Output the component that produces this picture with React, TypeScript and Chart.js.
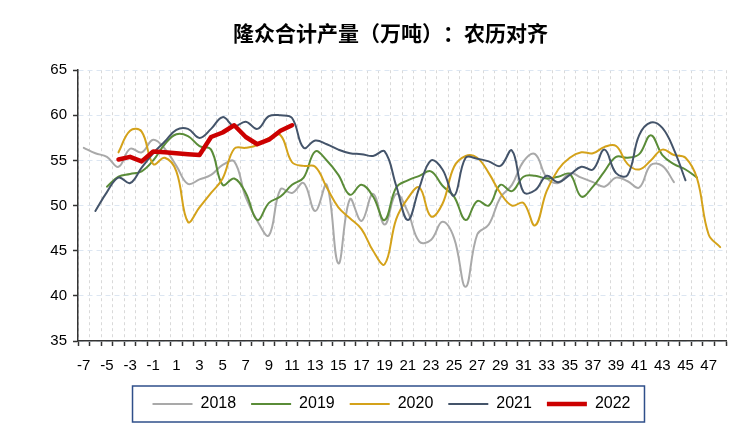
import React, { useEffect, useRef } from "react";
import { Chart, registerables } from "chart.js";

Chart.register(...registerables);

const TITLE = "隆众合计产量（万吨）：农历对齐";

const categories = [
  "-7", "-6", "-5", "-4", "-3", "-2", "-1", "0", "1", "2", "3", "4", "5", "6", "7", "8",
  "9", "10", "11", "12", "13", "14", "15", "16", "17", "18", "19", "20", "21", "22", "23", "24",
  "25", "26", "27", "28", "29", "30", "31", "32", "33", "34", "35", "36", "37", "38", "39", "40",
  "41", "42", "43", "44", "45", "46", "47", "48",
];

const yTicks = [35, 40, 45, 50, 55, 60, 65];

// 2018: -7 .. 44
const s2018 = [
  56.4, 55.8, 55.4, 54.3, 56.3, 55.9, 57.3, 56.3, 54.4, 52.4, 52.9, 53.4, 54.5, 54.9, 50.9, 48.3,
  46.7, 51.8, 51.4, 52.5, 49.4, 52.3, 43.6, 50.7, 48.3, 51.3, 47.9, 51.3, 49.3, 46.0, 46.2, 48.2,
  46.4, 41.0, 46.8, 47.9, 50.9, 52.3, 54.9, 55.7, 53.1, 52.5, 53.6, 53.1, 52.6, 52.1, 53.1, 52.7,
  52.0, 54.5, 54.4, 52.6, null, null, null, null,
];

// 2019: -5 .. 46
const s2019 = [
  null, null, 52.1, 53.2, 53.5, 53.8, 55.0, 56.8, 57.9, 57.7, 56.6, 56.2, 52.3, 53.0, 51.4, 48.4,
  50.3, 51.0, 52.3, 53.1, 56.0, 55.0, 53.4, 51.2, 52.3, 51.0, 48.4, 52.0, 52.8, 53.3, 53.8, 52.2,
  51.0, 48.4, 50.5, 50.0, 52.3, 51.6, 53.2, 53.3, 53.0, 53.2, 53.5, 51.0, 52.1, 53.8, 55.4, 55.3,
  55.7, 57.8, 55.6, 54.6, 54.0, 53.1, null, null,
];

// 2020: -4 .. 48
const s2020 = [
  null, null, null, 55.9, 58.3, 58.2, 54.6, 55.3, 53.8, 48.2, 49.8, 51.4, 53.0, 56.3, 56.4, 56.7,
  57.5, 57.8, 54.8, 54.4, 54.3, 52.0, 49.8, 48.6, 47.4, 45.0, 43.5, 48.5, 50.8, 52.0, 48.8, 50.2,
  54.3, 55.5, 55.3, 53.6, 51.4, 50.0, 50.3, 47.8, 51.6, 54.0, 55.3, 55.9, 55.8, 56.5, 56.6, 54.6,
  54.0, 55.0, 56.2, 55.6, 55.3, 53.0, 46.8, 45.4,
];

// 2021: -6 .. 45
const s2021 = [
  null, 49.4, 51.5, 53.1, 52.5, 54.2, 55.8, 57.1, 58.4, 58.5, 57.5, 58.5, 59.8, 58.8, 59.3, 58.5,
  59.9, 60.0, 59.7, 56.4, 57.2, 56.8, 56.2, 55.8, 55.7, 55.5, 56.0, 52.2, 48.4, 52.0, 55.0, 54.0,
  51.1, 55.3, 55.2, 54.9, 54.4, 56.1, 51.5, 51.7, 53.3, 52.6, 53.4, 54.3, 54.0, 56.2, 53.6, 53.4,
  57.8, 59.2, 58.6, 56.2, 52.8, null, null, null,
];

// 2022: -4 .. 11
const s2022 = [
  null, null, null, 55.1, 55.4, 54.9, 56.0, 55.9, 55.8, 55.7, 55.6, 57.6, 58.1, 58.9, 57.6, 56.8,
  57.3, 58.3, 58.9, null, null, null, null, null, null, null, null, null, null, null, null, null,
  null, null, null, null, null, null, null, null, null, null, null, null, null, null, null, null,
  null, null, null, null, null, null, null, null,
];

const seriesNames = ["2018", "2019", "2020", "2021", "2022"];
const seriesData = [s2018, s2019, s2020, s2021, s2022];
const seriesColors = ["#a9a9a9", "#5a8c38", "#d4a21a", "#44546a", "#cc0000"];
const seriesWidths = [2, 2, 2, 2, 4.5];
const seriesTension = [0.4, 0.4, 0.4, 0.4, 0];

const LEGEND_SHIFT = 6;
const TITLE_SHIFT = 5;

const boxTweaks = {
  id: "boxTweaks",
  afterUpdate(chart: any) {
    const lg = chart.legend;
    if (lg) {
      lg.left += LEGEND_SHIFT;
      lg.right += LEGEND_SHIFT;
    }
    const t = chart.titleBlock;
    if (t) {
      t.left += TITLE_SHIFT;
      t.right += TITLE_SHIFT;
    }
  },
  afterDraw(chart: any) {
    const lg = chart.legend;
    if (!lg || !lg.legendHitBoxes || !lg.legendHitBoxes.length) return;
    const hb = lg.legendHitBoxes;
    const first = hb[0];
    const last = hb[hb.length - 1];
    const cy = first.top + first.height / 2;
    const x0 = first.left + LEGEND_SHIFT - 20;
    const x1 = last.left + LEGEND_SHIFT + last.width + 14;
    const ctx = chart.ctx;
    ctx.save();
    ctx.strokeStyle = "#2f4f8a";
    ctx.lineWidth = 1.5;
    ctx.strokeRect(x0, cy - 18, x1 - x0, 36);
    ctx.restore();
  },
};

export default function App() {
  const ref = useRef<HTMLCanvasElement>(null);

  useEffect(() => {
    if (!ref.current) return;
    const chart = new Chart(ref.current, {
      type: "line",
      data: {
        labels: categories,
        datasets: seriesNames.map((name, i) => ({
          label: name,
          data: seriesData[i],
          borderColor: seriesColors[i],
          backgroundColor: seriesColors[i],
          borderWidth: seriesWidths[i],
          tension: seriesTension[i],
          pointRadius: 0,
          pointHoverRadius: 0,
          fill: false,
          order: seriesNames.length - i,
          borderCapStyle: "round",
          borderJoinStyle: "round",
        })),
      },
      options: {
        responsive: false,
        animation: false,
        layout: { padding: { left: 45, right: 26, top: 0, bottom: 9 } },
        font: { family: "'Liberation Sans', Arial, sans-serif" },
        plugins: {
          title: {
            display: true,
            text: TITLE,
            color: "#000",
            font: { size: 21, weight: "bold", family: "'Noto Sans CJK SC', sans-serif" },
            padding: { top: 20, bottom: 25 },
          },
          legend: {
            position: "bottom",
            labels: {
              usePointStyle: true,
              pointStyle: "line",
              pointStyleWidth: 40,
              boxHeight: 16,
              padding: 15,
              color: "#000",
              font: { size: 16, family: "'Liberation Sans', Arial, sans-serif" },
              sort: (a: any, b: any) => a.datasetIndex - b.datasetIndex,
            },
          },
          tooltip: { enabled: false },
        },
        scales: {
          x: {
            type: "category",
            offset: true,
            afterFit: (s: any) => {
              s.height = 40;
            },
            grid: {
              offset: true,
              color: "#d9d9d9",
              lineWidth: 1,
              tickLength: 5,
              tickColor: "#333",
              tickWidth: 1.5,
            },
            border: { display: true, color: "#333", width: 1.5, dash: [3, 3] },
            ticks: {
              autoSkip: false,
              maxRotation: 0,
              minRotation: 0,
              padding: 11,
              color: "#000",
              font: { size: 15, family: "'Liberation Sans', Arial, sans-serif" },
              callback: (_v: any, i: number) => {
                const l = categories[i];
                return Math.abs(Number(l)) % 2 === 1 ? l : "";
              },
            },
          },
          y: {
            min: yTicks[0],
            max: yTicks[yTicks.length - 1],
            afterFit: (s: any) => {
              s.width = 33;
            },
            afterBuildTicks: (s: any) => {
              s.ticks = yTicks.map((v) => ({ value: v }));
            },
            grid: {
              color: "#dce6f2",
              lineWidth: 1,
              tickLength: 5,
              tickColor: "#333",
              tickWidth: 1.5,
            },
            border: { display: true, color: "#333", width: 1.5, dash: [5, 4] },
            ticks: {
              padding: 6,
              color: "#000",
              font: { size: 15, family: "'Liberation Sans', Arial, sans-serif" },
            },
          },
        },
      },
      plugins: [boxTweaks],
    } as any);
    return () => chart.destroy();
  }, []);

  return (
    <div style={{ position: "fixed", left: 0, top: 0, width: 752, height: 431, background: "#fff" }}>
      <canvas
        ref={ref}
        width={752}
        height={431}
        style={{ width: 752, height: 431, display: "block", textSpacingTrim: "space-all" } as any}
      />
    </div>
  );
}
